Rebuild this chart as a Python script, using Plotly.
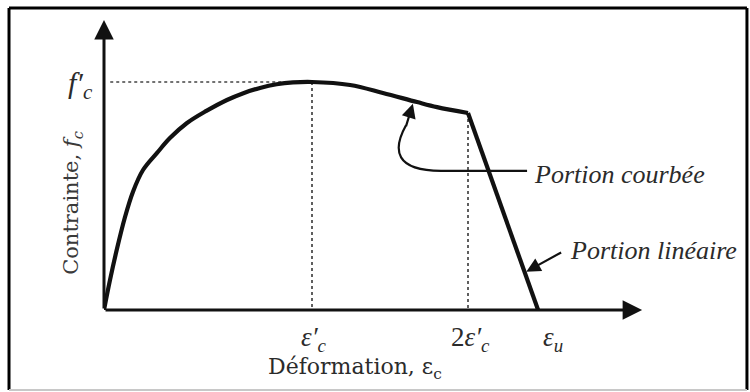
import plotly.graph_objects as go

# Idealised stress-strain law of concrete in compression
# (strain expressed in units of eps'_c on the drawing scale, stress in units of f'_c)
strain_curve = [0.0, 0.029, 0.061, 0.101, 0.139, 0.1875, 0.255, 0.317, 0.399, 0.49, 0.591,
                0.67, 0.75, 0.83, 0.909, 1.0, 1.183, 1.341, 1.505, 1.601, 1.75]
stress_curve = [0.0, 0.132, 0.263, 0.408, 0.518, 0.614, 0.689, 0.754, 0.820, 0.872, 0.921,
                0.951, 0.974, 0.990, 0.998, 1.0, 0.987, 0.952, 0.912, 0.890, 0.864]
strain_linear = [1.75, 2.087]
stress_linear = [0.864, 0.0]

tick_strains = [1.0, 1.75, 2.087]
tick_labels = ["<i>ε′<sub>c</sub></i>", "2<i>ε′<sub>c</sub></i>", "<i>ε<sub>u</sub></i>"]
peak_strain = 1.0
peak_stress = 1.0
peak_label = "<i>f′<sub>c</sub></i>"

x_title = "Déformation, ε<sub>c</sub>"
y_title = "Contrainte, <i>f<sub>c</sub></i>"
curved_label = "<i>Portion courbée</i>"
linear_label = "<i>Portion linéaire</i>"

INK = "#111111"
TEXT = "#2b2b2b"
SERIF = "DejaVu Serif"
ITALIC = "Liberation Serif"

fig = go.Figure()

# reference dotted lines to the peak and to 2 eps'_c
dot = dict(color="#444444", width=1.7, dash="dot")
fig.add_trace(go.Scatter(x=[0.03, peak_strain], y=[peak_stress, peak_stress], mode="lines",
                         line=dot, hoverinfo="skip"))
fig.add_trace(go.Scatter(x=[peak_strain, peak_strain], y=[peak_stress, 0], mode="lines",
                         line=dot, hoverinfo="skip"))
fig.add_trace(go.Scatter(x=[strain_curve[-1], strain_curve[-1]], y=[stress_curve[-1], 0], mode="lines",
                         line=dot, hoverinfo="skip"))

# curved branch and linear descending branch
fig.add_trace(go.Scatter(x=strain_curve, y=stress_curve, mode="lines",
                         line=dict(color=INK, width=4.2, shape="spline", smoothing=1.0),
                         hoverinfo="skip"))
fig.add_trace(go.Scatter(x=strain_linear, y=stress_linear, mode="lines",
                         line=dict(color=INK, width=4.2), hoverinfo="skip"))

annotations = []

# axes drawn as arrows
annotations.append(dict(x=0, y=1.272, ax=0, ay=0, xref="x", yref="y", axref="x", ayref="y",
                        text="", showarrow=True, arrowhead=2, arrowsize=1.3, arrowwidth=3,
                        arrowcolor=INK, standoff=0, startstandoff=0))
annotations.append(dict(x=2.587, y=0, ax=0, ay=0, xref="x", yref="y", axref="x", ayref="y",
                        text="", showarrow=True, arrowhead=2, arrowsize=1.3, arrowwidth=3,
                        arrowcolor=INK, standoff=0, startstandoff=0))

# strain labels under the axis
for xs, lab in zip(tick_strains, tick_labels):
    shift = 15 if lab.startswith("<i>ε<sub>u") else 2
    annotations.append(dict(x=xs, y=0, xref="x", yref="y", text=lab, showarrow=False,
                            xshift=shift, yshift=-29, yanchor="middle",
                            font=dict(family=ITALIC, size=27, color=TEXT)))

# peak stress label
annotations.append(dict(x=0, y=peak_stress, xref="x", yref="y", text=peak_label, showarrow=False,
                        xshift=-24, yshift=-3, font=dict(family=ITALIC, size=30, color=TEXT)))

# axis titles
annotations.append(dict(x=1.207, y=0, xref="x", yref="y", text=x_title, showarrow=False,
                        yshift=-58, font=dict(family=SERIF, size=22, color=TEXT)))
annotations.append(dict(x=0, y=0.47, xref="x", yref="y", text=y_title, showarrow=False,
                        xshift=-32, textangle=-90, font=dict(family=SERIF, size=21, color="#3a3a3a")))

# branch call-outs
annotations.append(dict(x=2.06, y=0.594, xref="x", yref="y", text=curved_label, showarrow=False,
                        xanchor="left", font=dict(family=ITALIC, size=26, color=TEXT)))
annotations.append(dict(x=2.23, y=0.263, xref="x", yref="y", text=linear_label, showarrow=False,
                        xanchor="left", font=dict(family=ITALIC, size=26, color=TEXT)))
annotations.append(dict(x=2.03, y=0.168, ax=2.205, ay=0.256, xref="x", yref="y", axref="x", ayref="y",
                        text="", showarrow=True, arrowhead=2, arrowsize=1.3, arrowwidth=2.2,
                        arrowcolor=INK, standoff=0))
annotations.append(dict(x=1.485, y=0.905, ax=1.45, ay=0.80, xref="x", yref="y", axref="x", ayref="y",
                        text="", showarrow=True, arrowhead=2, arrowsize=1.3, arrowwidth=2.2,
                        arrowcolor=INK, standoff=0))

shapes = [
    # leader from the curved-branch label to the curve
    dict(type="path", xref="x", yref="y",
         path="M 2.034 0.610 L 1.62 0.610 C 1.40 0.612, 1.385 0.70, 1.452 0.81",
         line=dict(color=INK, width=2.2)),
    # figure frame
    dict(type="line", xref="paper", yref="paper", x0=-0.1727, x1=-0.1727, y0=-0.27, y1=1.020,
         line=dict(color="#000000", width=3)),
    dict(type="line", xref="paper", yref="paper", x0=-0.1727, x1=1.169, y0=1.020, y1=1.020,
         line=dict(color="#000000", width=3)),
    dict(type="line", xref="paper", yref="paper", x0=1.169, x1=1.169, y0=-0.27, y1=1.020,
         line=dict(color="#000000", width=3)),
    dict(type="line", xref="paper", yref="paper", x0=-0.1727, x1=1.169, y0=-0.27, y1=-0.27,
         line=dict(color="#c8c8c8", width=2)),
]

fig.update_layout(
    width=750, height=392,
    margin=dict(l=104, r=96, t=14, b=82, autoexpand=False),
    paper_bgcolor="white", plot_bgcolor="white",
    showlegend=False,
    xaxis=dict(range=[0, 550 / 208], visible=False, fixedrange=True),
    yaxis=dict(range=[0, 296 / 228], visible=False, fixedrange=True),
    annotations=annotations,
    shapes=shapes,
)

fig.write_html("out.html")
